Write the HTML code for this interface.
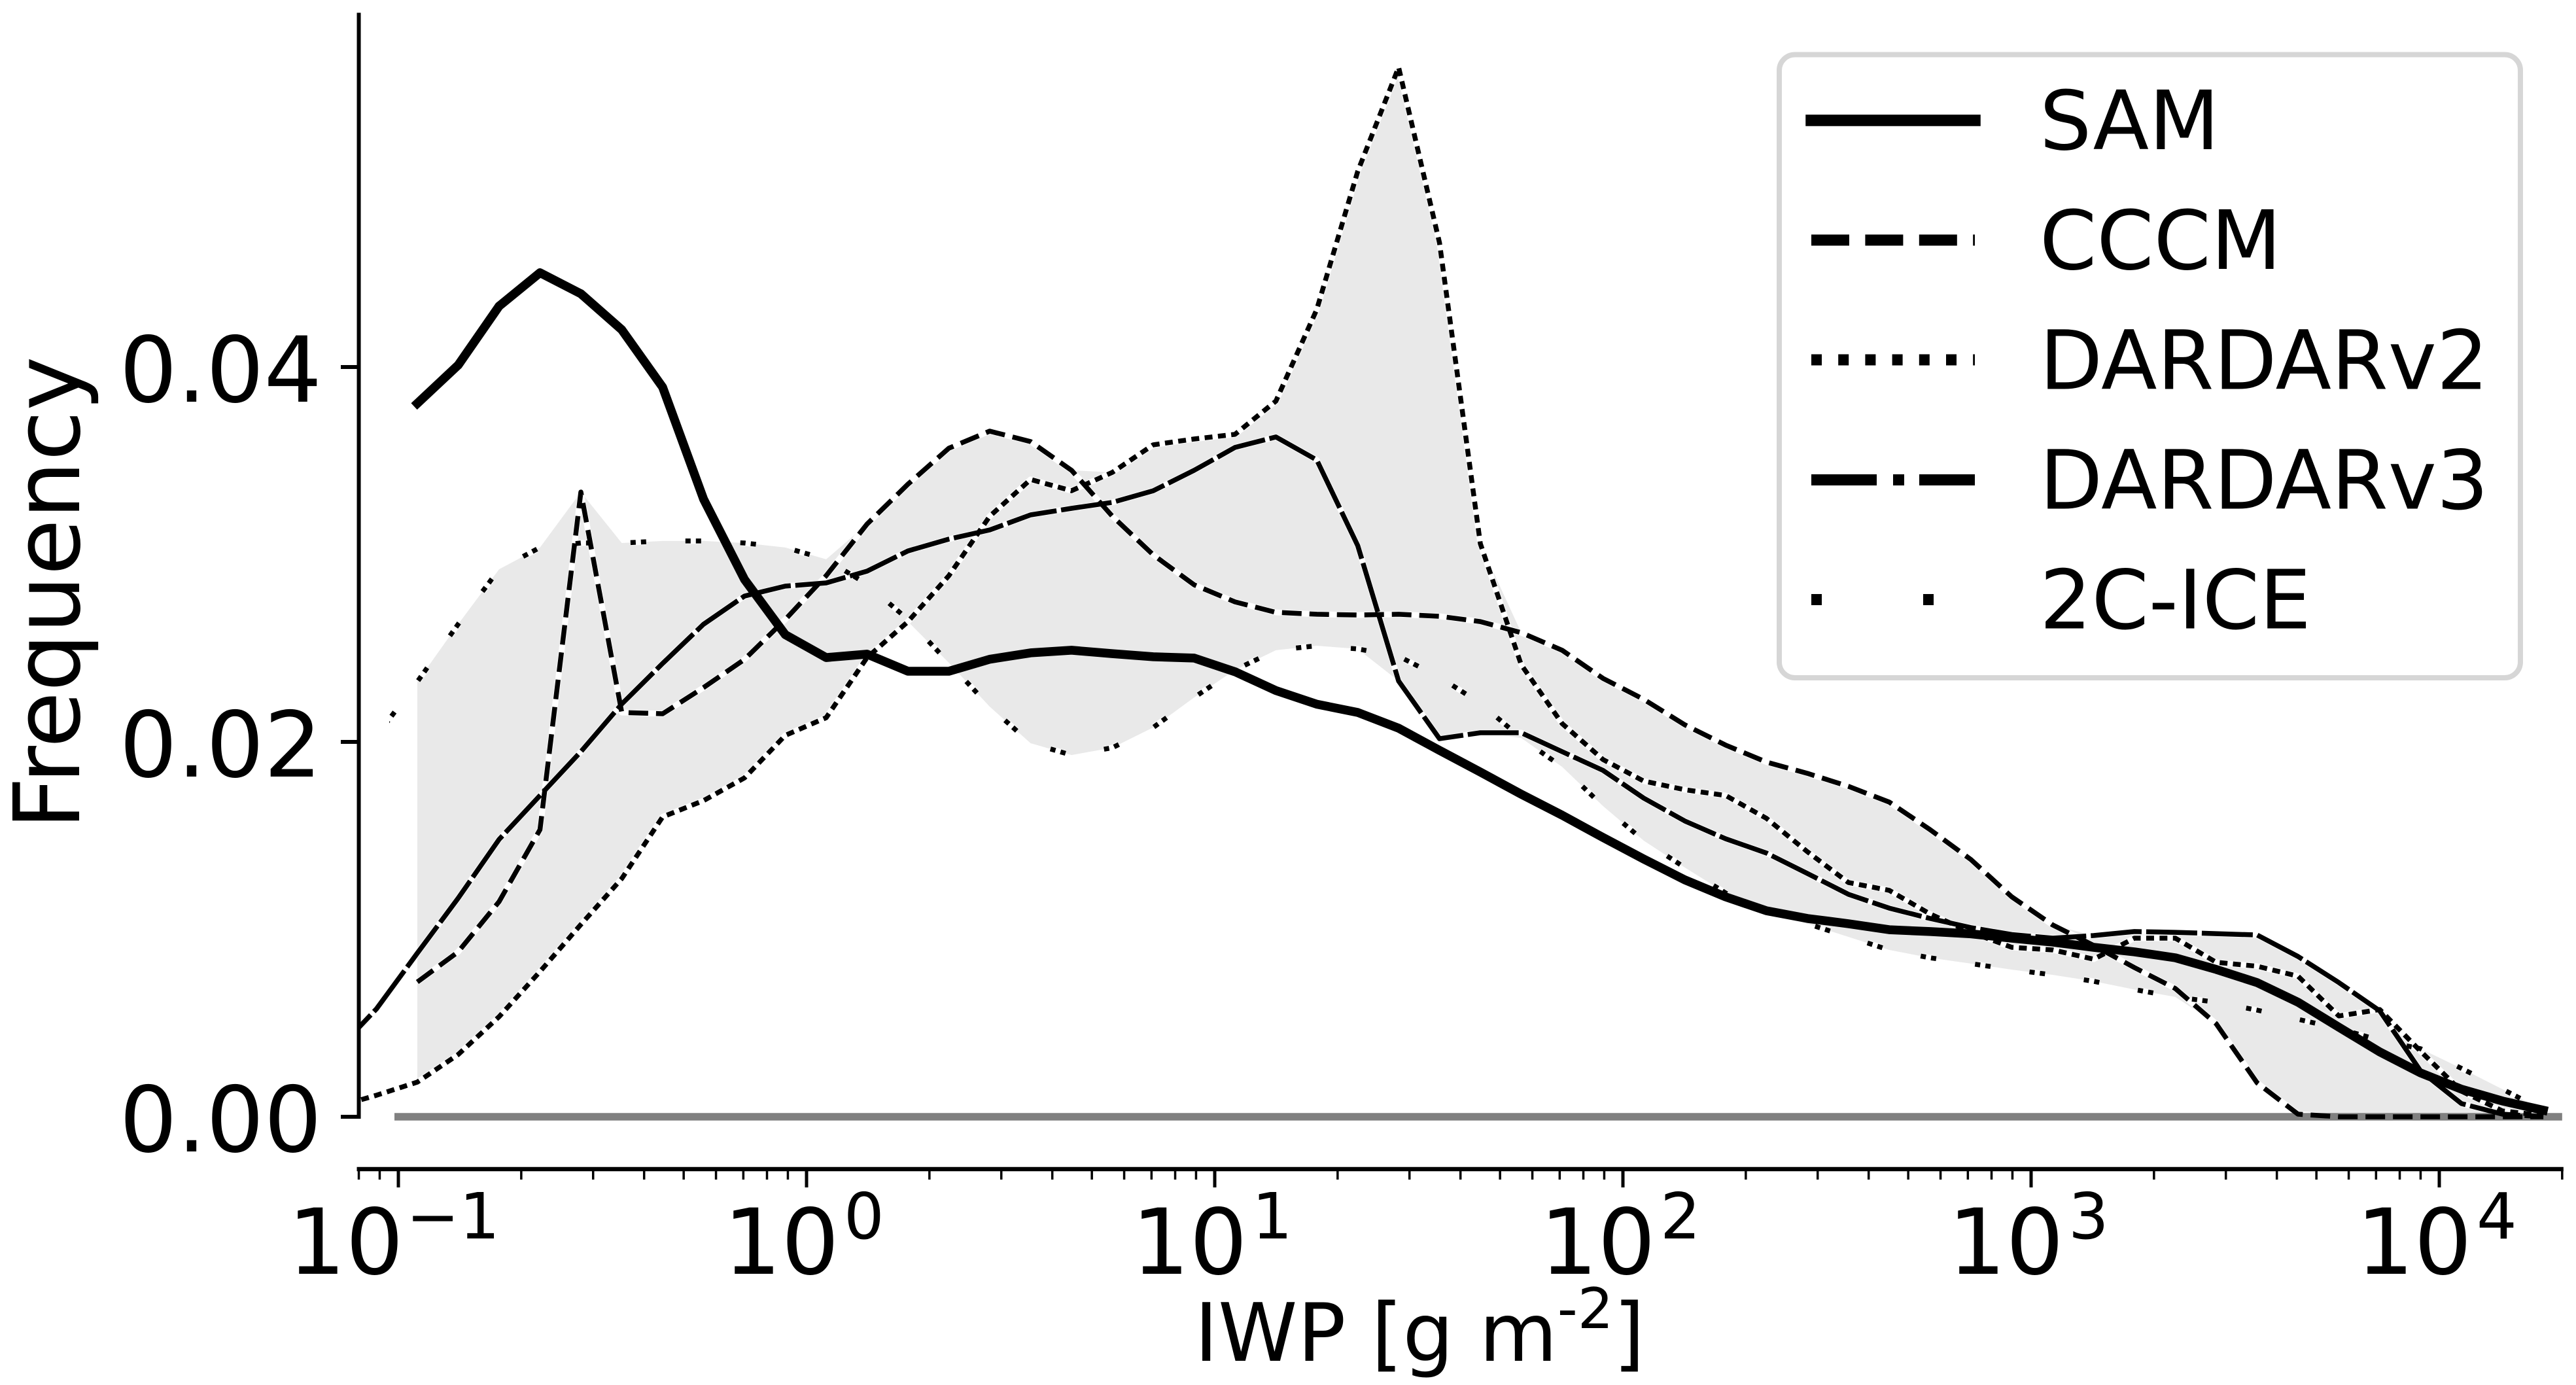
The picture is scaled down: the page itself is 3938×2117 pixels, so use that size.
<!DOCTYPE html>
<html lang="en">
<head>
<meta charset="utf-8">
<title>IWP frequency distribution</title>
<style>
html,body{margin:0;padding:0;background:#fff;width:3938px;height:2117px;overflow:hidden}
svg{display:block}
text{font-family:"DejaVu Sans",sans-serif;fill:#000}
</style>
</head>
<body>
<svg id="chart" xmlns="http://www.w3.org/2000/svg" width="3938" height="2117" viewBox="0 0 3938 2117">
  <defs>
    <clipPath id="plot-clip"><rect x="549" y="0" width="3369" height="1790"/></clipPath>
    <clipPath id="ice-clip"><rect x="595" y="0" width="3323" height="1790"/></clipPath>
  </defs>
  <rect x="0" y="0" width="3938" height="2117" fill="#fff"/>
  <g id="plot" clip-path="url(#plot-clip)"></g>
  <g id="axes"></g>
  <text transform="translate(121 1268) rotate(-90)" font-size="140">Frequency</text>
  <text x="1826" y="2080" font-size="122.7">IWP [g m<tspan font-size="86" dy="-50">-2</tspan><tspan dy="50">]</tspan></text>
  <g>
    <rect x="2720" y="83.5" width="1133" height="952.5" rx="24" ry="24" fill="#fff" stroke="#d6d6d6" stroke-width="8"/>
    <line x1="2769" y1="184" x2="3019" y2="184" stroke="#000" stroke-width="17.5" stroke-linecap="square"/>
    <text x="3118" y="228" font-size="125">SAM</text>
    <line x1="2769" y1="367" x2="3019" y2="367" stroke="#000" stroke-width="17" stroke-dasharray="58 24.4"/>
    <text x="3118" y="411" font-size="125">CCCM</text>
    <line x1="2769" y1="550" x2="3019" y2="550" stroke="#000" stroke-width="17" stroke-dasharray="16 25.2"/>
    <text x="3118" y="594.5" font-size="125">DARDARv2</text>
    <line x1="2769" y1="733.5" x2="3019" y2="733.5" stroke="#000" stroke-width="17" stroke-dasharray="100 25 17 23"/>
    <text x="3118" y="777.5" font-size="125">DARDARv3</text>
    <line x1="2769" y1="916.5" x2="3019" y2="916.5" stroke="#000" stroke-width="17" stroke-dasharray="16 155"/>
    <text x="3118" y="960.5" font-size="125">2C-ICE</text>
  </g>
</svg>
<script>
// Chart data
var iwpBins = [0.0702,0.0884,0.1113,0.1401,0.1765,0.2223,0.2800,0.3526,0.4441,0.5594,0.7045,0.8870,1.117,1.407,1.772,2.232,2.810,3.539,4.458,5.614,7.070,8.903,11.21,14.12,17.78,22.40,28.21,35.53,44.74,56.34,70.96,89.36,112.5,141.8,178.5,224.8,283.1,356.6,449.1,565.5,712.2,896.8,1130,1423,1791,2256,2841,3578,4506,5675,7148,9001,11338,14281,17985];
var samValues = [null,null,.03806,.04010,.04325,.04503,.04391,.04199,.03892,.03295,.02867,.02572,.02450,.02468,.02377,.02377,.02441,.02475,.02489,.02471,.02454,.02447,.02374,.02274,.02201,.02157,.02073,.01955,.01839,.01721,.01609,.01490,.01375,.01264,.01173,.01099,.01058,.01030,.00998,.00988,.00976,.00953,.00932,.00904,.00880,.00848,.00786,.00716,.00611,.00478,.00346,.00234,.00147,.00084,.00035];
var cccmValues = [null,null,.00719,.00880,.01148,.01532,.03333,.02157,.02150,.02290,.02440,.02653,.02887,.03162,.03375,.03567,.03658,.03602,.03449,.03204,.02998,.02838,.02747,.02691,.02681,.02677,.02681,.02670,.02642,.02583,.02489,.02339,.02227,.02091,.01983,.01892,.01832,.01763,.01679,.01532,.01372,.01173,.01023,.00914,.00796,.00684,.00496,.00181,.00014,0,0,0,0,0,0];
var dardarV2Values = [.00052,.00115,.00185,.00332,.00534,.00775,.01026,.01271,.01600,.01687,.01808,.02035,.02129,.02450,.02642,.02887,.03204,.03400,.03340,.03438,.03585,.03616,.03641,.03818,.04307,.05044,.05599,.04663,.03058,.02412,.02098,.01906,.01791,.01745,.01714,.01592,.01414,.01250,.01208,.01082,.00984,.00904,.00890,.00841,.00953,.00953,.00824,.00803,.00750,.00538,.00572,.00349,.00136,.00031,.00007];
var dardarV3Values = [.00346,.00576,.00873,.01166,.01480,.01714,.01948,.02202,.02419,.02628,.02778,.02831,.02848,.02911,.03019,.03082,.03131,.03211,.03246,.03278,.03340,.03449,.03571,.03627,.03504,.03047,.02325,.02017,.02049,.02049,.01948,.01848,.01700,.01578,.01483,.01407,.01298,.01187,.01113,.01058,.01009,.00972,.00953,.00967,.00988,.00984,.00977,.00970,.00855,.00716,.00565,.00244,.00070,.00014,0];
var iceValues = [null,.02031,.02321,.02628,.02921,.03037,.03061,.03061,.03072,.03072,.03061,.03037,.02974,.02841,.02653,.02422,.02188,.01993,.01930,.01969,.02077,.02237,.02384,.02489,.02513,.02496,.02457,.02346,.02206,.02021,.01867,.01658,.01473,.01330,.01194,.01096,.01030,.00960,.00890,.00848,.00817,.00785,.00757,.00723,.00679,.00639,.00611,.00569,.00520,.00471,.00408,.00363,.00258,.00147,.00035];
var yTickValues = [0, 0.02, 0.04];
var yTickLabels = ['0.00', '0.02', '0.04'];
var xTickExponents = [-1, 0, 1, 2, 3, 4];
var xTickBase = ['10', '10', '10', '10', '10', '10'];
var xTickPowers = ['\u22121', '0', '1', '2', '3', '4'];
var xMinorMultipliers = [2, 3, 4, 5, 6, 7, 8, 9];
var xDomain = [0.08, 20000];
var yTopValue = 0.0589;

// Axis functions
function xScale(v) { return 609 + 624 * (Math.log10(v) + 1); }
function yScale(v) { return 1707 - 28650 * v; }

var NS = 'http://www.w3.org/2000/svg';
var plot = document.getElementById('plot');
var axes = document.getElementById('axes');

function make(tag, parent) {
  var el = document.createElementNS(NS, tag);
  parent.appendChild(el);
  return el;
}
function linePath(values) {
  var d = '';
  for (var i = 0; i < values.length; i++) {
    if (values[i] === null) continue;
    d += (d ? 'L' : 'M') + xScale(iwpBins[i]).toFixed(1) + ' ' + yScale(values[i]).toFixed(1);
  }
  return d;
}

// Range fill between observational/model series
var upper = [], lower = [];
for (var i = 0; i < iwpBins.length; i++) {
  var group = [cccmValues[i], dardarV2Values[i], dardarV3Values[i], iceValues[i]];
  if (group.indexOf(null) !== -1) continue;
  upper.push([xScale(iwpBins[i]), yScale(Math.max.apply(null, group))]);
  lower.push([xScale(iwpBins[i]), yScale(Math.min.apply(null, group))]);
}
var fillD = '';
upper.forEach(function (p, k) { fillD += (k ? 'L' : 'M') + p[0].toFixed(1) + ' ' + p[1].toFixed(1); });
lower.reverse().forEach(function (p) { fillD += 'L' + p[0].toFixed(1) + ' ' + p[1].toFixed(1); });
var band = make('path', plot);


band.setAttribute('d', fillD + 'Z');
band.setAttribute('fill', '#e9e9e9');

// White under-strokes
var haloCccm = make('path', plot);


haloCccm.setAttribute('d', linePath(cccmValues));
var haloV2 = make('path', plot);


haloV2.setAttribute('d', linePath(dardarV2Values));
var haloV3 = make('path', plot);


haloV3.setAttribute('d', linePath(dardarV3Values));
var haloIce = make('path', plot);


haloIce.setAttribute('d', linePath(iceValues));
haloIce.setAttribute('stroke-dasharray', '24 60');
haloIce.setAttribute('stroke-dashoffset', '62');
[haloCccm, haloV2, haloV3, haloIce].forEach(function (h) {
  h.setAttribute('fill', 'none');
  h.setAttribute('stroke', '#fff');
  h.setAttribute('stroke-width', '9');
  h.setAttribute('stroke-linejoin', 'round');
});

// Zero reference line
var zero = make('line', plot);


zero.setAttribute('x1', xScale(0.1) - 6);
zero.setAttribute('x2', xScale(xDomain[1]));
zero.setAttribute('y1', yScale(0));
zero.setAttribute('y2', yScale(0));
zero.setAttribute('stroke', '#808080');
zero.setAttribute('stroke-width', '11.5');

// Series lines
var lineCccm = make('path', plot);


lineCccm.setAttribute('d', linePath(cccmValues));
lineCccm.setAttribute('stroke-dasharray', '30 12');
lineCccm.setAttribute('stroke-width', '7.5');
var lineV2 = make('path', plot);


lineV2.setAttribute('d', linePath(dardarV2Values));
lineV2.setAttribute('stroke-dasharray', '12 8.4');
lineV2.setAttribute('stroke-width', '7.5');
var lineV3 = make('path', plot);


lineV3.setAttribute('d', linePath(dardarV3Values));
lineV3.setAttribute('stroke-dasharray', '78 7');
lineV3.setAttribute('stroke-width', '7.5');
var lineIce = make('path', plot);


lineIce.setAttribute('d', linePath(iceValues));
lineIce.setAttribute('stroke-dasharray', '8 8 8 60');
lineIce.setAttribute('stroke-dashoffset', '62');
lineIce.setAttribute('stroke-width', '7.5');
lineIce.setAttribute('clip-path', 'url(#ice-clip)');
var lineSam = make('path', plot);


lineSam.setAttribute('d', linePath(samValues));
lineSam.setAttribute('stroke-width', '13.5');
lineSam.setAttribute('stroke-linecap', 'square');
[lineCccm, lineV2, lineV3, lineIce, lineSam].forEach(function (l) {
  l.setAttribute('fill', 'none');
  l.setAttribute('stroke', '#000');
  l.setAttribute('stroke-linejoin', 'round');
});

// Axis spines
var ySpine = make('line', axes);


ySpine.setAttribute('x1', xScale(xDomain[0]));
ySpine.setAttribute('x2', xScale(xDomain[0]));
ySpine.setAttribute('y1', yScale(yTopValue));
ySpine.setAttribute('y2', yScale(0) + 3);
ySpine.setAttribute('stroke', '#000');
ySpine.setAttribute('stroke-width', '6');
var xSpine = make('line', axes);


xSpine.setAttribute('x1', xScale(xDomain[0]) - 3);
xSpine.setAttribute('x2', xScale(xDomain[1]) + 2);
xSpine.setAttribute('y1', 1787);
xSpine.setAttribute('y2', 1787);
xSpine.setAttribute('stroke', '#000');
xSpine.setAttribute('stroke-width', '6.5');

// Y ticks
yTickValues.forEach(function (v, k) {
  var t = make('line', axes);
  
  
  t.setAttribute('x1', 521);
  t.setAttribute('x2', 549);
  t.setAttribute('y1', yScale(v));
  t.setAttribute('y2', yScale(v));
  t.setAttribute('stroke', '#000');
  t.setAttribute('stroke-width', '6');
  var lab = make('text', axes);
  
  
  lab.setAttribute('x', 492);
  lab.setAttribute('y', yScale(v) + 53);
  lab.setAttribute('font-size', '139');
  lab.setAttribute('text-anchor', 'end');
  lab.textContent = yTickLabels[k];
});

// X minor ticks
function drawMinor(value) {
  var m = make('line', axes);
  
  
  m.setAttribute('x1', xScale(value));
  m.setAttribute('x2', xScale(value));
  m.setAttribute('y1', 1787);
  m.setAttribute('y2', 1803);
  m.setAttribute('stroke', '#000');
  m.setAttribute('stroke-width', '3.5');
}
for (var e = -2; e <= 4; e++) {
  xMinorMultipliers.forEach(function (mult) {
    var val = mult * Math.pow(10, e);
    if (val >= xDomain[0] * 0.999 && val <= xDomain[1] * 1.001) drawMinor(val);
  });
}

// X major ticks and labels
xTickExponents.forEach(function (ex, k) {
  var px = xScale(Math.pow(10, ex));
  var t = make('line', axes);
  
  
  t.setAttribute('x1', px);
  t.setAttribute('x2', px);
  t.setAttribute('y1', 1787);
  t.setAttribute('y2', 1815);
  t.setAttribute('stroke', '#000');
  t.setAttribute('stroke-width', '5');
  var start = px - (ex < 0 ? 169 : 127);
  var base = make('text', axes);
  
  
  base.setAttribute('x', start);
  base.setAttribute('y', 1947);
  base.setAttribute('font-size', '139');
  base.textContent = xTickBase[k];
  var pow = make('text', axes);
  
  
  pow.setAttribute('x', start + (ex < 0 ? 181 : 184));
  pow.setAttribute('y', 1893);
  pow.setAttribute('font-size', '97');
  pow.textContent = xTickPowers[k];
});
</script>
</body>
</html>
